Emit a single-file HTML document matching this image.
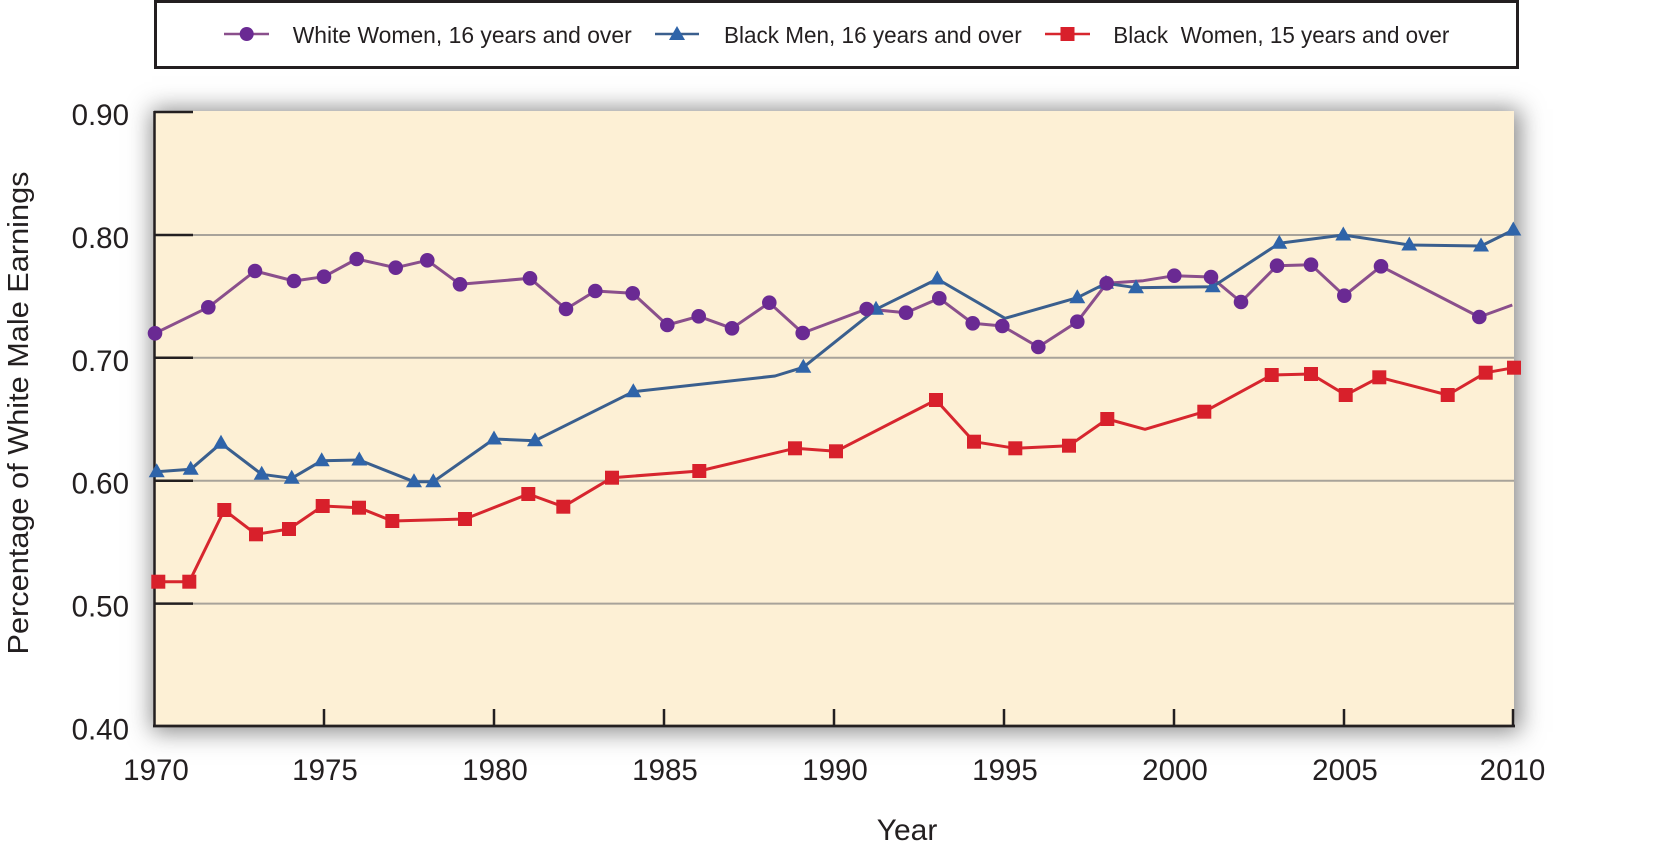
<!DOCTYPE html>
<html>
<head>
<meta charset="utf-8">
<style>
  html,body{margin:0;padding:0;background:#ffffff;}
  body{width:1677px;height:849px;position:relative;overflow:hidden;}
  #shadow{position:absolute;left:154px;top:111px;width:1360px;height:615px;background:#fdf0d5;box-shadow:2px 2px 22px 4px rgba(40,40,40,0.55);}
  svg{position:absolute;left:0;top:0;}
  text{font-family:"Liberation Sans",Arial,sans-serif;fill:#231f20;}
</style>
</head>
<body>
<div id="shadow"></div>
<svg width="1677" height="849" viewBox="0 0 1677 849" xmlns="http://www.w3.org/2000/svg">
  <!-- Legend -->
  <rect x="155.5" y="1.5" width="1362" height="66" fill="#ffffff" stroke="#231f20" stroke-width="3"/>
  <line x1="224" y1="34" x2="269" y2="34" stroke="#8a4f8c" stroke-width="2.5"/>
  <circle cx="246.7" cy="34" r="7" fill="#6a2a93"/>
  <text x="292.7" y="43" font-size="23" textLength="339" lengthAdjust="spacingAndGlyphs">White Women, 16 years and over</text>
  <line x1="655" y1="34" x2="699" y2="34" stroke="#3a5f8e" stroke-width="2.5"/>
  <polygon points="677,26 685,40 669,40" fill="#2f64a9"/>
  <text x="724" y="43" font-size="23" textLength="297.7" lengthAdjust="spacingAndGlyphs">Black Men, 16 years and over</text>
  <line x1="1045" y1="34" x2="1090" y2="34" stroke="#d7262e" stroke-width="2.5"/>
  <rect x="1060.5" y="27" width="14" height="14" fill="#d8202b"/>
  <text x="1113.3" y="43" font-size="23" textLength="336" lengthAdjust="spacingAndGlyphs">Black&#160;&#160;Women, 15 years and over</text>

  <!-- Gridlines -->
  <g stroke="#a8a39a" stroke-width="2">
    <line x1="193" y1="235" x2="1514" y2="235"/>
    <line x1="193" y1="357.8" x2="1514" y2="357.8"/>
    <line x1="193" y1="480.7" x2="1514" y2="480.7"/>
    <line x1="193" y1="603.6" x2="1514" y2="603.6"/>
  </g>
  <!-- left ticks -->
  <g stroke="#231f20" stroke-width="2.5">
    <line x1="154" y1="112" x2="193" y2="112"/>
    <line x1="154" y1="235" x2="193" y2="235"/>
    <line x1="154" y1="357.8" x2="193" y2="357.8"/>
    <line x1="154" y1="480.7" x2="193" y2="480.7"/>
    <line x1="154" y1="603.6" x2="193" y2="603.6"/>
  </g>
  <!-- bottom ticks -->
  <g stroke="#231f20" stroke-width="2.5">
    <line x1="324" y1="709" x2="324" y2="726"/>
    <line x1="494" y1="709" x2="494" y2="726"/>
    <line x1="664" y1="709" x2="664" y2="726"/>
    <line x1="834" y1="709" x2="834" y2="726"/>
    <line x1="1004" y1="709" x2="1004" y2="726"/>
    <line x1="1174" y1="709" x2="1174" y2="726"/>
    <line x1="1344" y1="709" x2="1344" y2="726"/>
    <line x1="1513" y1="709" x2="1513" y2="726"/>
  </g>
  <!-- axes -->
  <line x1="154.5" y1="111" x2="154.5" y2="727" stroke="#231f20" stroke-width="2.5"/>
  <line x1="153" y1="726" x2="1515" y2="726" stroke="#231f20" stroke-width="2.8"/>

  <!-- Series lines -->
  <polyline fill="none" stroke="#8a4f8c" stroke-width="3" stroke-linejoin="round" points="155,333.3 208.3,307.3 255,271 294,281 324,276.7 356.7,259 395.7,267.7 427.3,260.3 460,284.3 530,278.3 566,309 595.3,291 632.7,293.3 667.3,325 698.7,316.3 732,328.3 769.3,302.7 802.7,333 866.7,309 906,312.7 939.3,298.3 972.7,323.3 1002.3,326 1038.3,347 1077.3,321.7 1106.7,283.3 1143.3,280.7 1174.3,275.7 1211,277 1241,302 1277,265.7 1311,264.7 1344.3,295.7 1381,266.3 1479.3,317 1512.3,305"/>
  <polyline fill="none" stroke="#3a5f8e" stroke-width="3" stroke-linejoin="round" points="156.7,471.7 190.7,469.3 221,443.3 261.7,474.3 291.7,478.3 321.7,460.7 359.3,460 414,481.7 433.3,481.7 494,439 535,440.7 633.3,391.7 775,376 803.3,367.3 876,309.3 937.3,279 1005,318.3 1077.3,297.7 1106,283.3 1136,287.7 1212.7,286.7 1279.3,243.3 1343.3,235 1409.3,245 1481,246 1513.3,230"/>
  <polyline fill="none" stroke="#d7262e" stroke-width="3" stroke-linejoin="round" points="158.3,581.7 189.3,581.7 224.3,510 256,534.3 289,529 322.7,506 359,507.7 392.3,521 465,519 528.3,494 563.3,506.7 612,477.7 699.3,471 795,448.3 836,451.3 936,400 974,441.7 1015.3,448.3 1069,445.7 1107.3,419 1145,429.3 1204.3,411.7 1271.7,375 1311,374 1345.7,395 1379.3,377.3 1447.7,395 1485.7,372.7 1514,367.7"/>

  <!-- Red squares -->
  <g fill="#d8202b">
    <rect x="151.3" y="574.7" width="14" height="14"/>
    <rect x="182.3" y="574.7" width="14" height="14"/>
    <rect x="217.3" y="503" width="14" height="14"/>
    <rect x="249" y="527.3" width="14" height="14"/>
    <rect x="282" y="522" width="14" height="14"/>
    <rect x="315.7" y="499" width="14" height="14"/>
    <rect x="352" y="500.7" width="14" height="14"/>
    <rect x="385.3" y="514" width="14" height="14"/>
    <rect x="458" y="512" width="14" height="14"/>
    <rect x="521.3" y="487" width="14" height="14"/>
    <rect x="556.3" y="499.7" width="14" height="14"/>
    <rect x="605" y="470.7" width="14" height="14"/>
    <rect x="692.3" y="464" width="14" height="14"/>
    <rect x="788" y="441.3" width="14" height="14"/>
    <rect x="829" y="444.3" width="14" height="14"/>
    <rect x="929" y="393" width="14" height="14"/>
    <rect x="967" y="434.7" width="14" height="14"/>
    <rect x="1008.3" y="441.3" width="14" height="14"/>
    <rect x="1062" y="438.7" width="14" height="14"/>
    <rect x="1100.3" y="412" width="14" height="14"/>
    <rect x="1197.3" y="404.7" width="14" height="14"/>
    <rect x="1264.7" y="368" width="14" height="14"/>
    <rect x="1304" y="367" width="14" height="14"/>
    <rect x="1338.7" y="388" width="14" height="14"/>
    <rect x="1372.3" y="370.3" width="14" height="14"/>
    <rect x="1440.7" y="388" width="14" height="14"/>
    <rect x="1478.7" y="365.7" width="14" height="14"/>
    <rect x="1507" y="360.7" width="14" height="14"/>
  </g>

  <!-- Blue triangles -->
  <g fill="#2f64a9">
    <polygon points="156.7,463.2 164.7,477.2 148.7,477.2"/>
    <polygon points="190.7,460.8 198.7,474.8 182.7,474.8"/>
    <polygon points="221,434.8 229,448.8 213,448.8"/>
    <polygon points="261.7,465.8 269.7,479.8 253.7,479.8"/>
    <polygon points="291.7,469.8 299.7,483.8 283.7,483.8"/>
    <polygon points="321.7,452.2 329.7,466.2 313.7,466.2"/>
    <polygon points="359.3,451.5 367.3,465.5 351.3,465.5"/>
    <polygon points="414,473.2 422,487.2 406,487.2"/>
    <polygon points="433.3,473.2 441.3,487.2 425.3,487.2"/>
    <polygon points="494,430.5 502,444.5 486,444.5"/>
    <polygon points="535,432.2 543,446.2 527,446.2"/>
    <polygon points="633.3,383.2 641.3,397.2 625.3,397.2"/>
    <polygon points="803.3,358.8 811.3,372.8 795.3,372.8"/>
    <polygon points="876,300.8 884,314.8 868,314.8"/>
    <polygon points="937.3,270.5 945.3,284.5 929.3,284.5"/>
    <polygon points="1077.3,289.2 1085.3,303.2 1069.3,303.2"/>
    <polygon points="1106,274.8 1114,288.8 1098,288.8"/>
    <polygon points="1136,279.2 1144,293.2 1128,293.2"/>
    <polygon points="1212.7,278.2 1220.7,292.2 1204.7,292.2"/>
    <polygon points="1279.3,234.8 1287.3,248.8 1271.3,248.8"/>
    <polygon points="1343.3,226.5 1351.3,240.5 1335.3,240.5"/>
    <polygon points="1409.3,236.5 1417.3,250.5 1401.3,250.5"/>
    <polygon points="1481,237.5 1489,251.5 1473,251.5"/>
    <polygon points="1513.3,221.5 1521.3,235.5 1505.3,235.5"/>
  </g>

  <!-- Purple circles -->
  <g fill="#6a2a93">
    <circle cx="155" cy="333.3" r="7.3"/>
    <circle cx="208.3" cy="307.3" r="7.3"/>
    <circle cx="255" cy="271" r="7.3"/>
    <circle cx="294" cy="281" r="7.3"/>
    <circle cx="324" cy="276.7" r="7.3"/>
    <circle cx="356.7" cy="259" r="7.3"/>
    <circle cx="395.7" cy="267.7" r="7.3"/>
    <circle cx="427.3" cy="260.3" r="7.3"/>
    <circle cx="460" cy="284.3" r="7.3"/>
    <circle cx="530" cy="278.3" r="7.3"/>
    <circle cx="566" cy="309" r="7.3"/>
    <circle cx="595.3" cy="291" r="7.3"/>
    <circle cx="632.7" cy="293.3" r="7.3"/>
    <circle cx="667.3" cy="325" r="7.3"/>
    <circle cx="698.7" cy="316.3" r="7.3"/>
    <circle cx="732" cy="328.3" r="7.3"/>
    <circle cx="769.3" cy="302.7" r="7.3"/>
    <circle cx="802.7" cy="333" r="7.3"/>
    <circle cx="866.7" cy="309" r="7.3"/>
    <circle cx="906" cy="312.7" r="7.3"/>
    <circle cx="939.3" cy="298.3" r="7.3"/>
    <circle cx="972.7" cy="323.3" r="7.3"/>
    <circle cx="1002.3" cy="326" r="7.3"/>
    <circle cx="1038.3" cy="347" r="7.3"/>
    <circle cx="1077.3" cy="321.7" r="7.3"/>
    <circle cx="1106.7" cy="283.3" r="7.3"/>
    <circle cx="1174.3" cy="275.7" r="7.3"/>
    <circle cx="1211" cy="277" r="7.3"/>
    <circle cx="1241" cy="302" r="7.3"/>
    <circle cx="1277" cy="265.7" r="7.3"/>
    <circle cx="1311" cy="264.7" r="7.3"/>
    <circle cx="1344.3" cy="295.7" r="7.3"/>
    <circle cx="1381" cy="266.3" r="7.3"/>
    <circle cx="1479.3" cy="317" r="7.3"/>
  </g>

  <!-- Y tick labels -->
  <g font-size="29.5" text-anchor="end">
    <text x="129" y="125">0.90</text>
    <text x="129" y="248">0.80</text>
    <text x="129" y="370.8">0.70</text>
    <text x="129" y="493.7">0.60</text>
    <text x="129" y="616.6">0.50</text>
    <text x="129" y="739.5">0.40</text>
  </g>
  <!-- X tick labels -->
  <g font-size="29.5" text-anchor="middle">
    <text x="156" y="780">1970</text>
    <text x="325" y="780">1975</text>
    <text x="495" y="780">1980</text>
    <text x="665" y="780">1985</text>
    <text x="835" y="780">1990</text>
    <text x="1005" y="780">1995</text>
    <text x="1175" y="780">2000</text>
    <text x="1345" y="780">2005</text>
    <text x="1512.5" y="780">2010</text>
  </g>
  <!-- Axis titles -->
  <text x="907" y="840" font-size="30" text-anchor="middle">Year</text>
  <text transform="translate(28,413) rotate(-90)" font-size="29" text-anchor="middle" textLength="483" lengthAdjust="spacingAndGlyphs">Percentage of White Male Earnings</text>
</svg>
</body>
</html>
